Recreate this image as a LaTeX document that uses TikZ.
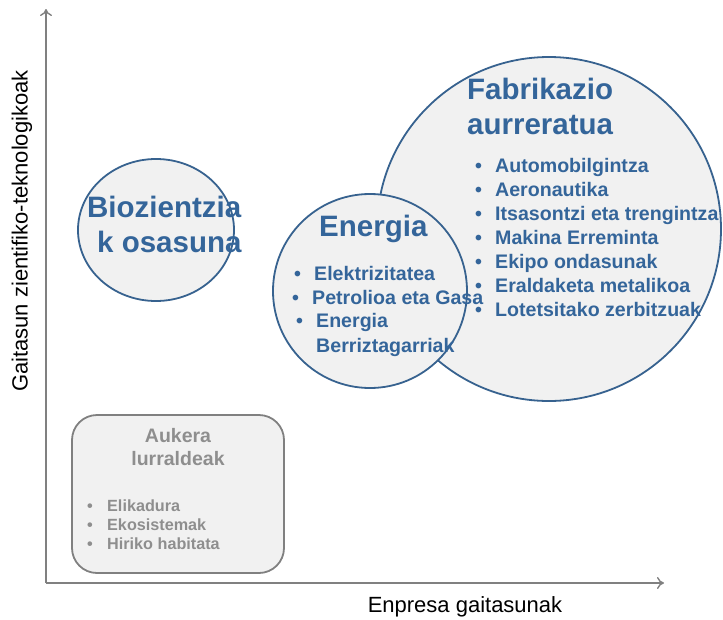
\documentclass[tikz,border=0pt]{standalone}
\usepackage{fontspec}
\setmainfont{Liberation Sans}
\usepackage{xcolor}
\usetikzlibrary{positioning, arrows.meta}

\definecolor{cblue}{HTML}{37628F}
\definecolor{tblue}{HTML}{34659A}
\definecolor{cfill}{HTML}{F1F1F1}
\definecolor{bgray}{HTML}{808080}
\definecolor{tgray}{HTML}{8E8E8E}

\newcommand{\blt}{\makebox[20pt][l]{\textbullet}}

\begin{document}
\begin{tikzpicture}[
    x=1pt, y=-1pt,
    axis/.style={draw=bgray, line width=1.4pt, -{To[length=7pt, width=12pt]}},
    bubble/.style={draw=cblue, line width=1.8pt, fill=cfill},
    title/.style={inner sep=0pt, anchor=base west, text=tblue, font=\fontsize{29.5}{33}\selectfont\bfseries},
    item/.style={inner sep=0pt, anchor=base west, text=tblue, font=\fontsize{19.6}{24}\selectfont\bfseries},
    gtitle/.style={inner sep=0pt, anchor=base, text=tgray, font=\fontsize{19.5}{23}\selectfont\bfseries},
    gitem/.style={inner sep=0pt, anchor=base west, text=tgray, font=\fontsize{16.2}{19}\selectfont\bfseries},
    lbl/.style={inner sep=0pt, font=\fontsize{22}{26}\selectfont},
]
\useasboundingbox (0,0) rectangle (723,619);

% === Axes ===
\coordinate (origin) at (46,583);
\coordinate (ytip) at (46,9);
\coordinate (xtip) at (664,583);
\draw[axis] (origin) -- (ytip);
\draw[axis] (origin) -- (xtip);
\node[lbl, rotate=90] (ylbl) at (22,231) {Gaitasun zientifiko-teknologikoak};
\node[lbl, anchor=base] (xlbl) at (465,612) {Enpresa gaitasunak};

% === Bubbles ===
\draw[bubble] (549,229) circle [radius=172] coordinate (fabc);
\draw[bubble] (370,291) circle [radius=97] coordinate (enec);
\draw[bubble] (156,230) ellipse [x radius=78, y radius=71] coordinate (bioc);

% === Aukera lurraldeak ===
\node[draw=bgray, line width=1.8pt, fill=cfill, rounded corners=25pt,
      minimum width=212pt, minimum height=158pt] (auk) at (178,494) {};

% === Fabrikazio aurreratua ===
\node[title] (fab1) at (467,99) {Fabrikazio};
\node[title] (fab2) at (467,134) {aurreratua};
\foreach \txt [count=\i] in {Automobilgintza, Aeronautika, Itsasontzi eta trengintza,
    Makina Erreminta, Ekipo ondasunak, Eraldaketa metalikoa, Lotetsitako zerbitzuak}
    \node[item] (fabi\i) at (475,148+24.1*\i) {\blt\txt};

% === Energia ===
\node[title] (ene) at (319,236) {Energia};
\node[item] (enei1) at (294,280) {\blt Elektrizitatea};
\node[item] (enei2) at (292,304) {\blt Petrolioa eta Gasa};
\node[item] (enei3) at (296,327) {\blt Energia};
\node[item] (enei4) at (316,352) {Berriztagarriak};

% === Biozientziak osasuna ===
\node[title] (bio1) at (87,217) {Biozientzia};
\node[title] (bio2) at (97,252) {k osasuna};

% === Aukera lurraldeak texts ===
\node[gtitle] (auk1) at (178,442) {Aukera};
\node[gtitle] (auk2) at (178,465) {lurraldeak};
\node[gitem] (auki1) at (87,511) {\blt Elikadura};
\node[gitem] (auki2) at (87,530) {\blt Ekosistemak};
\node[gitem] (auki3) at (87,549) {\blt Hiriko habitata};

\end{tikzpicture}
\end{document}
